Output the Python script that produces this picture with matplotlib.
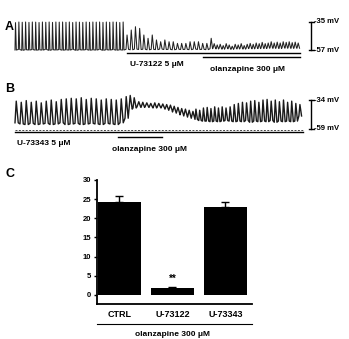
import matplotlib.pyplot as plt
import numpy as np

plt.rcParams["font.family"] = ["Liberation Sans", "DejaVu Sans"]
plt.rcParams["font.weight"] = "bold"

W, H = 349, 339

# ---------------------------
# Trace A (mV), per cycle peaks / troughs
# ---------------------------
A_ctrl_peak = [-35.5, -35, -35.2, -35, -35.3, -35, -35.1, -35.4, -35, -35.2, -35,
               -35.3, -35, -35.1, -35, -35.2, -35, -35.4, -35, -35.1, -35.3, -35,
               -35.2, -35, -35.1, -35, -35.3, -35, -35.2, -35, -35.1, -35.4, -35]
A_ctrl_trough = [-57, -56.6, -57.2, -56.8, -57, -56.7, -57.1, -56.9, -57, -56.6, -57.2,
                 -56.8, -57, -56.7, -57.1, -56.9, -57, -56.6, -57.2, -56.8, -57, -56.7,
                 -57.1, -56.9, -57, -56.6, -57.2, -56.8, -57, -56.7, -57.1, -56.9, -57]
A_u73122_peak = [-45.2, -41.3, -38.7, -40, -45.2, -47.8, -45.2, -49.1, -50.5, -49.1,
                 -50.5, -50.5, -51.8, -51.8, -51.8, -50.5, -50.5, -50.5, -51.8, -51.8]
A_u73122_trough = [-56.5, -56.8, -56.3, -56.6, -56.4, -56.8, -56.5, -56.7, -56.3, -56.6,
                   -56.5, -56.8, -56.4, -56.6, -56.5, -56.7, -56.3, -56.6, -56.5, -56.7]
A_olz_peak = [-47.8, -52, -53, -52.5, -53.5, -52, -53, -54, -52.5, -53, -52, -53.5,
              -52.5, -51.8, -52.5, -51.5, -52, -51, -52, -51.5, -50.5, -51.5, -50.8,
              -51.5, -50.5, -51, -50.5, -51.2, -50.8, -51.5]
A_olz_trough = [-56, -55.6, -56.2, -55.8, -56.4, -55.7, -56.1, -56.5, -55.9, -56.2,
                -55.8, -56.3, -55.9, -55.6, -56.1, -55.7, -55.9, -55.5, -55.8, -55.6,
                -55.4, -55.7, -55.5, -55.8, -55.3, -55.6, -55.4, -55.7, -55.5, -55.6]
# segment time spans
A_spans = [(0, 111), (111, 195), (195, 285)]

# ---------------------------
# Trace B (mV)
# ---------------------------
B_ctrl_peak = [-35, -36, -34.5, -36, -35, -36.5, -35, -34, -35.5, -33.5, -33,
               -32.5, -33, -32, -33.5, -32.5, -33, -34, -33, -33.5, -34, -33]
B_ctrl_trough = [-54, -55, -55.5, -54.5, -55.5, -55, -54.5, -55.5, -55, -54, -55.5,
                 -55, -54.5, -55.5, -55, -54.5, -55, -55.5, -54.5, -55, -55.5, -54]
B_wash_peak = [-31, -30, -32]
B_wash_trough = [-50, -42, -41]
B_olz1_peak = [-35.5, -36, -36.5, -37, -36.5, -37, -37.5]
B_olz1_trough = [-40, -40.5, -40, -40.5, -41, -40.5, -41]
B_olz2_peak = [-38, -38.5, -39.5, -40.5, -41.5, -42, -43, -44]
B_olz2_trough = [-42, -43, -44.5, -45.5, -47, -48, -49, -50]
B_rec1_peak = [-42, -43, -41, -40.5, -41.5, -40, -41, -40]
B_rec1_trough = [-51, -52, -52.5, -52.5, -53, -52.5, -53, -52.5]
B_rec2_peak = [-41, -40, -38, -37, -36, -36.5, -35, -34.5, -36, -34, -33.5, -35,
               -34, -35.5, -34, -36, -35, -37, -38]
B_rec2_trough = [-52, -52.5, -53, -52.5, -53, -52, -53.5, -52.5, -53, -52.5, -53,
                 -52, -53.5, -52.5, -53, -52.5, -53, -52.5, -48]
B_spans = [(0, 110), (110, 122), (122, 150), (150, 180), (180, 210), (210, 288)]

# ---------------------------
# Panel C bar chart
# ---------------------------
groups = ["CTRL", "U-73122", "U-73343"]
means = [24.2, 1.7, 23.0]
sems = [1.5, 0.5, 1.2]


def px_axes(fig, x0, y0, x1, y1):
    return fig.add_axes([x0 / W, 1 - y1 / H, (x1 - x0) / W, (y1 - y0) / H])


def build_trace(segments):
    ts, vs = [], []
    for (t_a, t_b), peaks, troughs, rise, fall in segments:
        n = len(peaks)
        p = (t_b - t_a) / n
        for i in range(n):
            t0 = t_a + i * p
            ts += [t0, t0 + rise * p, t0 + (rise + fall) * p]
            vs += [troughs[i], peaks[i], troughs[i]]
    return np.array(ts), np.array(vs)


def scale_bar(ax, t, lo, hi, fs=5.5):
    ax.plot([t, t], [lo, hi], color="black", lw=1.0, clip_on=False)
    for v in (lo, hi):
        ax.plot([t - 2.5, t + 2.5], [v, v], color="black", lw=1.0, clip_on=False)
        ax.text(t + 3.5, v, f"-{abs(v):g} mV", fontsize=fs, va="center", ha="left")


fig = plt.figure(figsize=(W / 100, H / 100), dpi=100)

# Panel A
axA = px_axes(fig, 15, 18, 349, 56)
axA.set_xlim(0, 334)
axA.set_ylim(-61.71, -31.86)
axA.axis("off")
tA, vA = build_trace([
    (A_spans[0], A_ctrl_peak, A_ctrl_trough, 0.15, 0.25),
    (A_spans[1], A_u73122_peak, A_u73122_trough, 0.25, 0.35),
    (A_spans[2], A_olz_peak, A_olz_trough, 0.4, 0.45),
])
axA.plot(tA, vA, color="#222222", lw=0.75, clip_on=False)
scale_bar(axA, 296, -57, -35)
axA.plot([112, 285], [-59.4, -59.4], color="black", lw=1.0, clip_on=False)
axA.plot([188, 285], [-62.5, -62.5], color="black", lw=1.0, clip_on=False)
axA.text(115, -68, "U-73122 5 μM", fontsize=6, va="center", ha="left")
axA.text(195, -72, "olanzapine 300 μM", fontsize=6, va="center", ha="left")

# Panel B
axB = px_axes(fig, 15, 92, 349, 138)
axB.set_xlim(0, 334)
axB.set_ylim(-67.33, -26.98)
axB.axis("off")
tB, vB = build_trace([
    (B_spans[0], B_ctrl_peak, B_ctrl_trough, 0.25, 0.4),
    (B_spans[1], B_wash_peak, B_wash_trough, 0.3, 0.5),
    (B_spans[2], B_olz1_peak, B_olz1_trough, 0.45, 0.45),
    (B_spans[3], B_olz2_peak, B_olz2_trough, 0.45, 0.45),
    (B_spans[4], B_rec1_peak, B_rec1_trough, 0.25, 0.4),
    (B_spans[5], B_rec2_peak, B_rec2_trough, 0.25, 0.4),
])
axB.plot(tB, vB, color="#1a1a1a", lw=1.0, clip_on=False)
scale_bar(axB, 296, -59, -34)
axB.plot([0, 288], [-60, -60], color="#444444", lw=0.7, ls=(0, (2, 1.5)), clip_on=False)
axB.plot([0, 288], [-62.3, -62.3], color="black", lw=1.0, clip_on=False)
axB.plot([103, 147], [-66.5, -66.5], color="black", lw=1.0, clip_on=False)
axB.text(2, -72, "U-73343 5 μM", fontsize=6, va="center", ha="left")
axB.text(97, -77.5, "olanzapine 300 μM", fontsize=6, va="center", ha="left")

# Panel letters
fig.text(5 / W, 1 - 27 / H, "A", fontsize=9, fontweight="bold", va="center")
fig.text(5 / W, 1 - 89 / H, "B", fontsize=9, fontweight="bold", va="center")
fig.text(5 / W, 1 - 174 / H, "C", fontsize=9, fontweight="bold", va="center")

# Panel C
axC = px_axes(fig, 97, 180, 252, 304)
x = np.arange(len(groups))
axC.bar(x, means, width=0.81, color="black")
axC.errorbar(x, means, yerr=[np.zeros(len(sems)), sems], fmt="none",
             ecolor="black", elinewidth=1.0, capsize=3, capthick=1.0)
axC.set_xlim(-0.42, 2.5)
axC.set_ylim(-2.35, 30)
axC.set_yticks(range(0, 31, 5))
axC.set_xticks(x)
axC.set_xticklabels(groups, fontsize=6.5, fontweight="bold")
axC.tick_params(axis="y", labelsize=5.5, length=2.5, width=1.0, pad=1.5)
axC.tick_params(axis="x", length=0, pad=4)
for s in ("top", "right"):
    axC.spines[s].set_visible(False)
for s in ("left", "bottom"):
    axC.spines[s].set_linewidth(1.3)
axC.text(1, means[1] + sems[1] + 0.6, "**", ha="center", va="bottom", fontsize=7)
axC.plot([-0.42, 2.5], [-7.6, -7.6], transform=axC.transData, color="black",
         lw=0.8, clip_on=False)
axC.text(1.0, -10.2, "olanzapine 300 μM", ha="center", va="center", fontsize=6)

fig.savefig("out.png", dpi=100)
